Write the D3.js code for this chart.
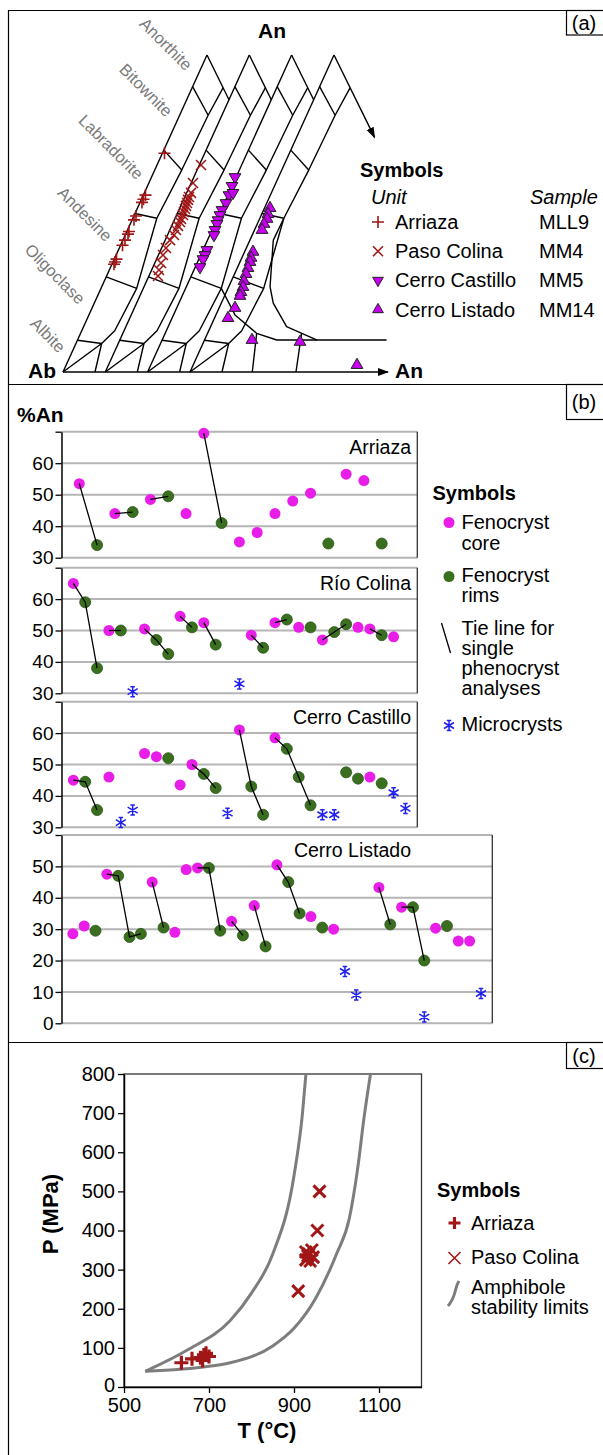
<!DOCTYPE html>
<html>
<head>
<meta charset="utf-8">
<script src="https://cdn.jsdelivr.net/npm/d3@7"></script>
<style>
  body { margin: 0; background: #fff; }
  svg text { font-family: "Liberation Sans", Arial, Helvetica, sans-serif; }
</style>
</head>
<body>
<svg id="fig" width="603" height="1455"></svg>
<script>
// ---------- (a) plagioclase diagram : values are [An %, offset from Ab-An edge] ----------
var triShift = [0, 42.3, 84.6, 127];
var anBounds = [10, 30, 50, 70, 90];
var tieEnds = [[9, 25.7], [26.4, 35.7], [48.5, 24], [63.7, 27], [81, 28.5]];
var fieldEdge = [[89.7, 31], [81, 28.5], [63.7, 27], [48.5, 24], [26.4, 35.7], [13, 33], [9, 25.7], [0, 32]];
var extraEdge3 = [[26.4, 35.7], [18, 61.5], [12.2, 91.5], [10.1, 114.6], [10.1, 155]];
var dropEdge3 = [[12.2, 91.5], [0, 104.7]];
var extraEdge4 = [[48.5, 24], [41.6, 23.4], [26.9, 41.3], [21.7, 52], [14.3, 76], [10.1, 112], [10.1, 182]];
var dropEdge4 = [[12.2, 94], [0, 106]];
var mineralNames = ["Anorthite", "Bitownite", "Labradorite", "Andesine", "Oligoclase", "Albite"];

// analyses [u, An %]
var arriazaA = [[101.5, 69], [82.5, 55.8], [80.5, 54.5], [79, 53.5], [73, 49.2], [71, 48], [66, 44.3],
  [65, 43.5], [62, 41.6], [59.5, 40], [53.5, 35.6], [52, 34.7], [51, 34]];
var pasoColinaA = [[138, 65.3], [130, 59.6], [128, 56.5], [126, 55.2], [125, 54.3], [124, 53.3], [123, 52.4],
  [122, 51.4], [121, 50.5], [120, 49.5], [118, 48.3], [117, 47.3], [115, 46.1], [113, 44.8], [111, 43.2],
  [107, 41.6], [103, 39.1], [100, 36.9], [98, 34.4], [96, 32.2], [95, 30.3]];
var castilloA = [[172, 61.5], [169, 58.7], [166, 55.8], [170, 56.5], [163, 53.3], [159, 51.1], [157, 49.5],
  [155, 47.9], [154, 46.7], [152, 44.8], [151, 43.2], [144, 38.5], [142, 36.9], [140, 35.6], [137, 33.1]];
var listadoA = [[207, 51.7], [205, 49.8], [204, 48.3], [201, 46.7], [199, 44.8], [190, 37.9], [188, 36],
  [187, 34.7], [185, 32.8], [183, 30.9], [181, 28.7], [180, 26.8], [178, 25.2], [177, 24], [172, 20.2],
  [165, 17], [189, 10.1], [237, 9.5], [294, 2.2]];
var unitNames = ["Arriaza", "Paso Colina", "Cerro Castillo", "Cerro Listado"];
var sampleNames = ["MLL9", "MM4", "MM5", "MM14"];

// ---------- (b) %An per analysis : [analysis number, %An] ----------
var arriazaCore = [[1, 53.5], [3, 44], [5, 48.5], [7, 44], [8, 69.5], [10, 35], [11, 38], [12, 44], [13, 48], [14, 50.5], [16, 56.5], [17, 54.5]];
var arriazaRim = [[2, 34], [4, 44.5], [6, 49.5], [9, 41], [15, 34.5], [18, 34.5]];
var arriazaMicro = [];
var arriazaTies = [[1, 2], [3, 4], [5, 6], [8, 9]];

var rioColinaCore = [[1, 65], [4, 50], [7, 50.5], [10, 54.5], [12, 52.5], [16, 48.5], [18, 52.5], [20, 51], [22, 47], [25, 51], [26, 50.5], [28, 48]];
var rioColinaRim = [[2, 59], [3, 38], [5, 50], [8, 47], [9, 42.5], [11, 51], [13, 45.5], [17, 44.5], [19, 53.5], [21, 51], [23, 49.5], [24, 52], [27, 48.5]];
var rioColinaMicro = [[6, 30.5], [15, 33]];
var rioColinaTies = [[1, 2, 3], [4, 5], [7, 8, 9], [10, 11], [12, 13], [16, 17], [18, 19], [22, 23, 24], [26, 27]];

var castilloCore = [[1, 45], [4, 46], [7, 53.5], [8, 52.5], [10, 43.5], [11, 50], [15, 61], [18, 58.5], [26, 46]];
var castilloRim = [[2, 44.5], [3, 35.5], [9, 52], [12, 47], [13, 42.5], [16, 43], [17, 34], [19, 55], [20, 46], [21, 37], [24, 47.5], [25, 45.5], [27, 44]];
var castilloMicro = [[5, 31.5], [6, 35.5], [14, 34.5], [22, 34], [23, 34], [28, 41], [29, 36]];
var castilloTies = [[1, 2, 3], [11, 12, 13], [15, 16, 17], [18, 19, 20, 21]];

var listadoCore = [[1, 28.5], [2, 31], [4, 47.5], [8, 45], [10, 29], [11, 49], [12, 49.5], [15, 32.5], [17, 37.5], [19, 50.5], [22, 34], [24, 30], [28, 43.3], [30, 37], [33, 30.3], [35, 26.2], [36, 26.2]];
var listadoRim = [[3, 29.5], [5, 47], [6, 27.5], [7, 28.5], [9, 30.5], [13, 49.5], [14, 29.5], [16, 28], [18, 24.5], [20, 45], [21, 35], [23, 30.5], [29, 31.5], [31, 37], [32, 20], [34, 31]];
var listadoMicro = [[25, 16.5], [26, 9], [32, 2], [37, 9.5]];
var listadoTies = [[4, 5, 6, 7], [8, 9], [12, 13, 14], [15, 16], [17, 18], [19, 20, 21], [28, 29], [30, 31, 32]];

// ---------- (c) P-T : [T °C, P MPa] ----------
var arriazaPT = [[635, 62], [660, 72], [680, 75], [688, 82], [693, 86], [700, 78], [685, 68]];
var pasoColinaPT = [[960, 500], [955, 400], [910, 245], [928, 345], [942, 350], [933, 335], [945, 332], [928, 325], [938, 322], [935, 340]];
var amphLower = [[550, 40], [650, 95], [750, 170], [800, 240], [850, 340], [900, 540], [920, 700], [928, 800]];
var amphUpper = [[550, 40], [700, 53], [750, 62], [850, 105], [900, 150], [950, 225], [1000, 340], [1030, 430], [1050, 560], [1065, 690], [1080, 800]];

var RED = "#a11616", PURPLE = "#c600ee", MAGENTA = "#e81ee8", GREEN = "#3a6f1f", BLUE = "#2020f0";

var svg = d3.select("#fig");
var defs = svg.append("defs");
defs.append("marker").attr("id", "arrow").attr("viewBox", "0 0 10 10")
  .attr("refX", 9).attr("refY", 5).attr("markerWidth", 8).attr("markerHeight", 8)
  .attr("orient", "auto")
  .append("path").attr("d", "M0,1.5L10,5L0,8.5z").attr("fill", "#000");

// figure frame
svg.append("g").attr("stroke", "#000").attr("stroke-width", 1.2)
  .selectAll("line")
  .data([[8.5, 10, 8.5, 1455], [8, 10.5, 603, 10.5], [8, 384.5, 603, 384.5], [8, 1042.5, 603, 1042.5]])
  .join("line")
    .attr("x1", function(d) { return d[0]; }).attr("y1", function(d) { return d[1]; })
    .attr("x2", function(d) { return d[2]; }).attr("y2", function(d) { return d[3]; });

[["(a)", 10.5, 24.5], ["(b)", 384.5, 35], ["(c)", 1042.5, 26]].forEach(function(b) {
  svg.append("rect").attr("x", 566.5).attr("y", b[1]).attr("width", 40).attr("height", b[2])
    .attr("fill", "#fff").attr("stroke", "#000").attr("stroke-width", 1.2);
  svg.append("text").attr("x", 584).attr("y", b[1] + b[2] / 2 + 7).attr("text-anchor", "middle")
    .attr("font-size", 20).text(b[0]);
});

// ================= panel (a) =================
var xA = d3.scaleLinear().domain([0, 325]).range([63, 388]);
var yA = d3.scaleLinear().domain([0, 100]).range([372, 55]);
var SKEW = 1.44;
function pA(k, an, w) { return [xA(triShift[k] + SKEW * an + w), yA(an)]; }
var line = d3.line();
var gA = svg.append("g").attr("fill", "none").attr("stroke", "#000").attr("stroke-width", 1.4)
  .attr("stroke-linejoin", "round");

triShift.forEach(function(s, k) {
  var last = k === triShift.length - 1;
  gA.append("path").attr("d", line([pA(k, 0, 0), pA(k, 100, 0)]));
  var anEnd = last ? 74 : 100 - (triShift[k + 1] - s) / 3;
  gA.append("path").attr("d", line([pA(k, 100, 0), pA(k, anEnd, 3 * (100 - anEnd))]))
    .attr("marker-end", last ? "url(#arrow)" : null);
  gA.append("path").attr("d", line(fieldEdge.map(function(d) { return pA(k, d[0], d[1]); })));
  anBounds.forEach(function(an, i) {
    gA.append("path").attr("d", line([pA(k, an, 0), pA(k, tieEnds[i][0], tieEnds[i][1])]));
  });
  gA.append("path").attr("d", line([pA(k, 0, 0), pA(k, tieEnds[0][0], tieEnds[0][1])]));
});
[[2, extraEdge3], [2, dropEdge3], [3, extraEdge4], [3, dropEdge4]].forEach(function(e) {
  gA.append("path").attr("d", line(e[1].map(function(d) { return pA(e[0], d[0], d[1]); })));
});
gA.append("path").attr("d", line([[xA(0), yA(0)], [xA(325), yA(0)]])).attr("marker-end", "url(#arrow)");

svg.append("text").attr("x", 272).attr("y", 38).attr("text-anchor", "middle")
  .attr("font-size", 21).attr("font-weight", "bold").text("An");
svg.append("text").attr("x", 28).attr("y", 378).attr("font-size", 21).attr("font-weight", "bold").text("Ab");
svg.append("text").attr("x", 395).attr("y", 378).attr("font-size", 21).attr("font-weight", "bold").text("An");

var mineralPos = [[166, 44], [146, 90], [111, 147], [85, 214], [55, 274], [48, 335]];
svg.append("g").selectAll("text").data(mineralNames).join("text")
  .attr("transform", function(d, i) { return "translate(" + mineralPos[i][0] + "," + mineralPos[i][1] + ") rotate(45)"; })
  .attr("text-anchor", "middle").attr("dy", "0.35em")
  .attr("font-size", 16.5).attr("fill", "#7a7a7a").text(function(d) { return d; });

function plusPath(s) { return "M" + (-s) + ",0H" + s + "M0," + (-s) + "V" + s; }
function crossPath(s) { return "M" + (-s) + "," + (-s) + "L" + s + "," + s + "M" + (-s) + "," + s + "L" + s + "," + (-s); }
var triSym = d3.symbol().type(d3.symbolTriangle).size(60);

var gPts = svg.append("g");
gPts.selectAll(".ar").data(arriazaA).join("path")
  .attr("transform", function(d) { return "translate(" + xA(d[0]) + "," + yA(d[1]) + ")"; })
  .attr("d", plusPath(6)).attr("stroke", RED).attr("stroke-width", 1.6).attr("fill", "none");
gPts.selectAll(".pc").data(pasoColinaA).join("path")
  .attr("transform", function(d) { return "translate(" + xA(d[0]) + "," + yA(d[1]) + ")"; })
  .attr("d", crossPath(5)).attr("stroke", RED).attr("stroke-width", 1.5).attr("fill", "none");
gPts.selectAll(".cc").data(castilloA).join("path")
  .attr("transform", function(d) { return "translate(" + xA(d[0]) + "," + yA(d[1]) + ") rotate(180)"; })
  .attr("d", triSym).attr("fill", PURPLE).attr("stroke", "#222").attr("stroke-width", 1);
gPts.selectAll(".cl").data(listadoA).join("path")
  .attr("transform", function(d) { return "translate(" + xA(d[0]) + "," + yA(d[1]) + ")"; })
  .attr("d", triSym).attr("fill", PURPLE).attr("stroke", "#222").attr("stroke-width", 1);

// legend (a)
var legA = svg.append("g").attr("font-size", 20);
legA.append("text").attr("x", 360).attr("y", 177).attr("font-weight", "bold").text("Symbols");
legA.append("text").attr("x", 371).attr("y", 204).attr("font-style", "italic").text("Unit");
legA.append("text").attr("x", 530).attr("y", 204).attr("font-style", "italic").text("Sample");
unitNames.forEach(function(u, i) {
  var yy = 229 + i * 29.2;
  legA.append("text").attr("x", 395).attr("y", yy).text(u);
  legA.append("text").attr("x", 539).attr("y", yy).text(sampleNames[i]);
  var m = legA.append("path").attr("transform", "translate(378," + (yy - 7) + ")" + (i === 2 ? " rotate(180)" : ""));
  if (i === 0) m.attr("d", plusPath(6)).attr("stroke", RED).attr("stroke-width", 1.6).attr("fill", "none");
  else if (i === 1) m.attr("d", crossPath(5)).attr("stroke", RED).attr("stroke-width", 1.6).attr("fill", "none");
  else m.attr("d", d3.symbol().type(d3.symbolTriangle).size(50)).attr("fill", PURPLE).attr("stroke", "#222");
});

// ================= panel (b) =================
svg.append("text").attr("x", 17).attr("y", 422).attr("font-size", 21).attr("font-weight", "bold").text("%An");

function starPath(s) {
  var d = s * 0.6, c = s * 0.45;
  return "M0," + (-s) + "V" + s + "M" + (-s) + "," + (-d) + "L" + s + "," + d + "M" + (-s) + "," + d + "L" + s + "," + (-d) +
    "M" + (-c) + "," + (-s) + "H" + c + "M" + (-c) + "," + s + "H" + c;
}

var subplots = [
  { title: "Arriaza", core: arriazaCore, rim: arriazaRim, micro: arriazaMicro, ties: arriazaTies, yDom: [30, 70], n: 20, top: 431.7, bottom: 557.7, right: 417.3 },
  { title: "Río Colina", core: rioColinaCore, rim: rioColinaRim, micro: rioColinaMicro, ties: rioColinaTies, yDom: [30, 70], n: 30, top: 567.7, bottom: 693.3, right: 417.3 },
  { title: "Cerro Castillo", core: castilloCore, rim: castilloRim, micro: castilloMicro, ties: castilloTies, yDom: [30, 70], n: 30, top: 701.7, bottom: 827.3, right: 417.3 },
  { title: "Cerro Listado", core: listadoCore, rim: listadoRim, micro: listadoMicro, ties: listadoTies, yDom: [0, 60], n: 38, top: 835, bottom: 1023.3, right: 492.3 }
];

subplots.forEach(function(sp) {
  var x = d3.scaleLinear().domain([0, sp.n]).range([61.5, sp.right]);
  var y = d3.scaleLinear().domain(sp.yDom).range([sp.bottom, sp.top]);
  var grid = d3.range(sp.yDom[0], sp.yDom[1] + 1, 10);
  var g = svg.append("g");

  g.append("rect").attr("x", 61.5).attr("y", sp.top).attr("width", sp.right - 61.5).attr("height", sp.bottom - sp.top)
    .attr("fill", "#fff");
  g.selectAll(".grid").data(grid).join("line")
    .attr("x1", 61.5).attr("x2", sp.right).attr("y1", y).attr("y2", y)
    .attr("stroke", "#b5b5b5").attr("stroke-width", 2);
  g.append("line").attr("x1", sp.right).attr("x2", sp.right).attr("y1", sp.top).attr("y2", sp.bottom)
    .attr("stroke", "#333").attr("stroke-width", 1.3);

  var ax = g.append("g").attr("transform", "translate(61.5,0)")
    .call(d3.axisLeft(y).tickValues(grid).tickSize(6).tickSizeOuter(0)
      .tickFormat(function(v) { return v === sp.yDom[1] ? "" : v; }));
  ax.attr("font-family", null).attr("font-size", 19);
  ax.select(".domain").attr("stroke", "#000").attr("stroke-width", 1.5);
  ax.selectAll(".tick line").attr("stroke-width", 1.3);
  ax.selectAll(".tick text").attr("fill", "#000").attr("x", -8);

  g.selectAll(".core").data(sp.core).join("circle")
    .attr("cx", function(d) { return x(d[0]); }).attr("cy", function(d) { return y(d[1]); })
    .attr("r", 5.5).attr("fill", MAGENTA);
  g.selectAll(".rim").data(sp.rim).join("circle")
    .attr("cx", function(d) { return x(d[0]); }).attr("cy", function(d) { return y(d[1]); })
    .attr("r", 5.5).attr("fill", GREEN).attr("stroke", "#2b5516").attr("stroke-width", 0.8);

  var byIndex = new Map(sp.core.concat(sp.rim).map(function(d) { return [d[0], d[1]]; }));
  g.selectAll(".tie").data(sp.ties).join("path")
    .attr("d", function(chain) { return line(chain.map(function(i) { return [x(i), y(byIndex.get(i))]; })); })
    .attr("fill", "none").attr("stroke", "#000").attr("stroke-width", 1.3);

  g.selectAll(".micro").data(sp.micro).join("path")
    .attr("transform", function(d) { return "translate(" + x(d[0]) + "," + y(d[1]) + ")"; })
    .attr("d", starPath(5)).attr("fill", "none").attr("stroke", BLUE).attr("stroke-width", 1.5);

  g.append("text").attr("x", 411).attr("y", sp.top + 22).attr("text-anchor", "end")
    .attr("font-size", 19.5).text(sp.title);
});

// legend (b)
var legB = svg.append("g").attr("font-size", 20);
legB.append("text").attr("x", 432.5).attr("y", 500).attr("font-weight", "bold").text("Symbols");
legB.append("circle").attr("cx", 449).attr("cy", 522.5).attr("r", 5.5).attr("fill", MAGENTA);
legB.append("circle").attr("cx", 449).attr("cy", 576.5).attr("r", 5.5).attr("fill", GREEN);
legB.append("path").attr("d", line([[441.5, 623], [450.5, 653]])).attr("stroke", "#000").attr("stroke-width", 1.3);
legB.append("path").attr("transform", "translate(449,725.5)").attr("d", starPath(5))
  .attr("fill", "none").attr("stroke", BLUE).attr("stroke-width", 1.5);
[["Fenocryst", 528.5], ["core", 550], ["Fenocryst", 582], ["rims", 602], ["Tie line for", 635],
 ["single", 654.5], ["phenocryst", 674.5], ["analyses", 695], ["Microcrysts", 731]].forEach(function(t) {
  legB.append("text").attr("x", 461.5).attr("y", t[1]).text(t[0]);
});

// ================= panel (c) =================
var xC = d3.scaleLinear().domain([500, 1200]).range([124, 421.5]);
var yC = d3.scaleLinear().domain([0, 800]).range([1387, 1074]);
var gC = svg.append("g");
gC.append("rect").attr("x", 124).attr("y", 1074).attr("width", 297.5).attr("height", 313)
  .attr("fill", "#fff").attr("stroke", "#333").attr("stroke-width", 1.3);

var axY = gC.append("g").attr("transform", "translate(124,0)")
  .call(d3.axisLeft(yC).tickValues(d3.range(0, 801, 100)).tickSize(6).tickSizeOuter(0));
var axX = gC.append("g").attr("transform", "translate(0,1387)")
  .call(d3.axisBottom(xC).tickValues([500, 700, 900, 1100]).tickSize(6).tickSizeOuter(0)
    .tickFormat(d3.format("d")));
[axY, axX].forEach(function(a) {
  a.attr("font-family", null).attr("font-size", 20);
  a.select(".domain").attr("stroke", "#000").attr("stroke-width", 1.5);
  a.selectAll(".tick line").attr("stroke-width", 1.3);
  a.selectAll(".tick text").attr("fill", "#000");
});
axY.selectAll(".tick text").attr("x", -9);
axY.selectAll(".tick text").filter(function(d) { return d === 0; }).attr("dy", "0.2em");
axX.selectAll(".tick text").attr("y", 11);

var curve = d3.line().x(function(d) { return xC(d[0]); }).y(function(d) { return yC(d[1]); }).curve(d3.curveMonotoneX);
[amphLower, amphUpper].forEach(function(c) {
  gC.append("path").attr("d", curve(c)).attr("fill", "none").attr("stroke", "#7d7d7d").attr("stroke-width", 3);
});

gC.selectAll(".apt").data(arriazaPT).join("path")
  .attr("transform", function(d) { return "translate(" + xC(d[0]) + "," + yC(d[1]) + ")"; })
  .attr("d", plusPath(7)).attr("stroke", RED).attr("stroke-width", 3.2).attr("fill", "none");
gC.selectAll(".cpt").data(pasoColinaPT).join("path")
  .attr("transform", function(d) { return "translate(" + xC(d[0]) + "," + yC(d[1]) + ")"; })
  .attr("d", crossPath(6)).attr("stroke", RED).attr("stroke-width", 3).attr("fill", "none");

svg.append("text").attr("transform", "translate(58,1214) rotate(-90)").attr("text-anchor", "middle")
  .attr("font-size", 22).attr("font-weight", "bold").text("P (MPa)");
svg.append("text").attr("x", 267).attr("y", 1438).attr("text-anchor", "middle")
  .attr("font-size", 22).attr("font-weight", "bold").text("T (°C)");

// legend (c)
var legC = svg.append("g").attr("font-size", 20);
legC.append("text").attr("x", 437).attr("y", 1197).attr("font-weight", "bold").text("Symbols");
legC.append("path").attr("transform", "translate(454.5,1223)").attr("d", plusPath(6))
  .attr("stroke", RED).attr("stroke-width", 3.2).attr("fill", "none");
legC.append("path").attr("transform", "translate(454.5,1258)").attr("d", crossPath(6))
  .attr("stroke", RED).attr("stroke-width", 1.6).attr("fill", "none");
legC.append("path").attr("d", "M448,1306 Q453,1300 455,1292 T459,1281")
  .attr("fill", "none").attr("stroke", "#7d7d7d").attr("stroke-width", 3);
[["Arriaza", 1230], ["Paso Colina", 1264], ["Amphibole", 1293.5], ["stability limits", 1313.5]].forEach(function(t) {
  legC.append("text").attr("x", 471).attr("y", t[1]).text(t[0]);
});
</script>
</body>
</html>
